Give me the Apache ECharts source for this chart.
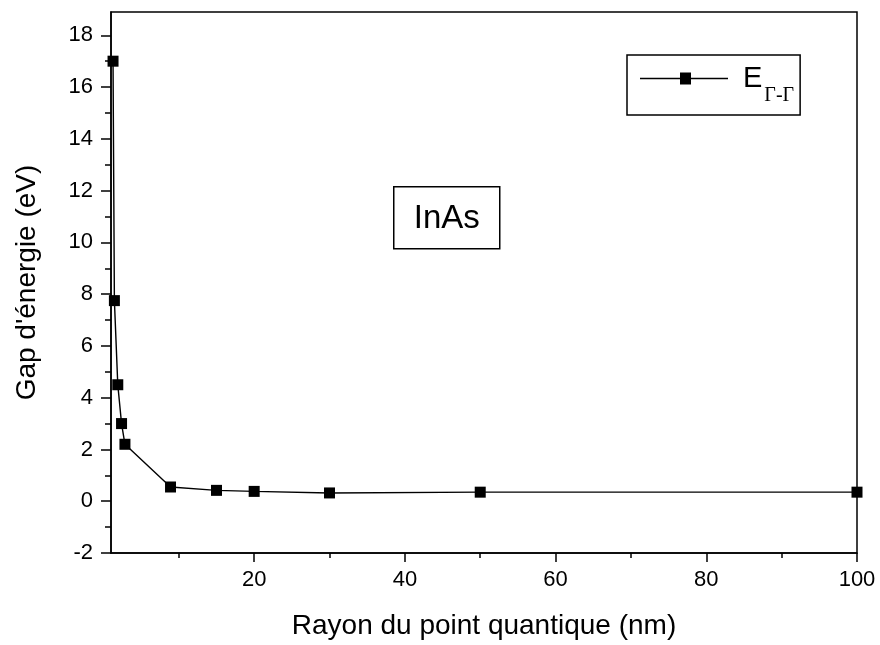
<!DOCTYPE html>
<html>
<head>
<meta charset="utf-8">
<script src="https://cdn.jsdelivr.net/npm/echarts@6/dist/echarts.min.js"></script>
<style>html,body{margin:0;padding:0;background:#fff}#c{width:880px;height:645px}</style>
</head>
<body>
<div id="c"></div>
<script>
const radius = [1.27, 1.45, 1.9, 2.4, 2.85, 8.9, 15, 20, 30, 50, 100];
const gap = [17.0, 7.75, 4.5, 3.0, 2.2, 0.55, 0.42, 0.38, 0.32, 0.35, 0.35];
const xMajorTicks = [20, 40, 60, 80, 100];
const xMinorTicks = [10, 30, 50, 70, 90];
const yMajorTicks = [-2, 0, 2, 4, 6, 8, 10, 12, 14, 16, 18];
const yMinorTicks = [-1, 1, 3, 5, 7, 9, 11, 13, 15, 17];

const FONT = 'Liberation Sans, Arial, sans-serif';
const chart = echarts.init(document.getElementById('c'), null, {renderer: 'canvas'});
const baseX = {type: 'value', min: 1, max: 100, gridIndex: 0};
const baseY = {type: 'value', min: -2, max: 18.9, gridIndex: 0};
chart.setOption({
  animation: false,
  grid: {left: 111, right: 23, top: 12, bottom: 90, show: true, borderColor: '#000', borderWidth: 1.5, backgroundColor: '#fff'},
  legend: {
    left: 627, top: 55,
    orient: 'horizontal',
    padding: [9, 6, 9, 13],
    borderColor: '#000', borderWidth: 1.5,
    itemWidth: 88, itemHeight: 12, itemGap: 5,
    data: [{name: 'E', icon: 'path://M0,5.3 L40,5.3 L40,0 L51,0 L51,5.3 L88,5.3 L88,6.7 L51,6.7 L51,12 L40,12 L40,6.7 L0,6.7 Z'}],
    formatter: () => '{e|E}{s|Γ-Γ}',
    textStyle: {
      rich: {
        e: {fontFamily: FONT, fontSize: 29, color: '#000', verticalAlign: 'bottom', padding: [0, 2, 0, 10]},
        s: {fontFamily: 'Liberation Serif, Times New Roman, serif', fontSize: 20, color: '#000', verticalAlign: 'bottom', padding: [0, 0, -13, 0]}
      }
    }
  },
  xAxis: [
    Object.assign({}, baseX, {
      name: 'Rayon du point quantique (nm)', nameLocation: 'middle', nameGap: 59,
      nameTextStyle: {fontFamily: FONT, fontSize: 28, color: '#000'},
      axisLine: {show: true, onZero: false, lineStyle: {color: '#000', width: 1.5}},
      axisTick: {show: true, length: 9, lineStyle: {color: '#000', width: 1.5}, customValues: xMajorTicks},
      axisLabel: {fontFamily: FONT, fontSize: 22, color: '#000', margin: 16, customValues: xMajorTicks},
      splitLine: {show: false}
    }),
    Object.assign({}, baseX, {
      position: 'bottom',
      axisLine: {show: false, onZero: false},
      axisTick: {show: true, length: 5, lineStyle: {color: '#000', width: 1.5}, customValues: xMinorTicks},
      axisLabel: {show: false},
      splitLine: {show: false}
    })
  ],
  yAxis: [
    Object.assign({}, baseY, {
      name: "Gap d'énergie (eV)", nameLocation: 'middle', nameGap: 70,
      nameTextStyle: {fontFamily: FONT, fontSize: 28, color: '#000'},
      axisLine: {show: true, onZero: false, lineStyle: {color: '#000', width: 1.5}},
      axisTick: {show: true, length: 10, lineStyle: {color: '#000', width: 1.5}, customValues: yMajorTicks},
      axisLabel: {fontFamily: FONT, fontSize: 22, color: '#000', margin: 18, customValues: yMajorTicks},
      splitLine: {show: false}
    }),
    Object.assign({}, baseY, {
      position: 'left',
      axisLine: {show: false, onZero: false},
      axisTick: {show: true, length: 6, lineStyle: {color: '#000', width: 1.5}, customValues: yMinorTicks},
      axisLabel: {show: false},
      splitLine: {show: false}
    })
  ],
  graphic: [{
    type: 'group', left: 393, top: 186,
    children: [
      {type: 'rect', shape: {x: 0, y: 0, width: 106, height: 62}, style: {fill: '#fff', stroke: '#000', lineWidth: 1.5}},
      {type: 'text', x: 53, y: 32, style: {text: 'InAs', fontFamily: FONT, fontSize: 33, fill: '#000', align: 'center', verticalAlign: 'middle'}}
    ]
  }],
  series: [{
    name: 'E', type: 'line', xAxisIndex: 0, yAxisIndex: 0,
    data: radius.map((r, i) => [r, gap[i]]),
    symbol: 'rect', symbolSize: 11,
    lineStyle: {color: '#000', width: 1.4},
    itemStyle: {color: '#000'},
    clip: false
  }]
});
</script>
</body>
</html>
